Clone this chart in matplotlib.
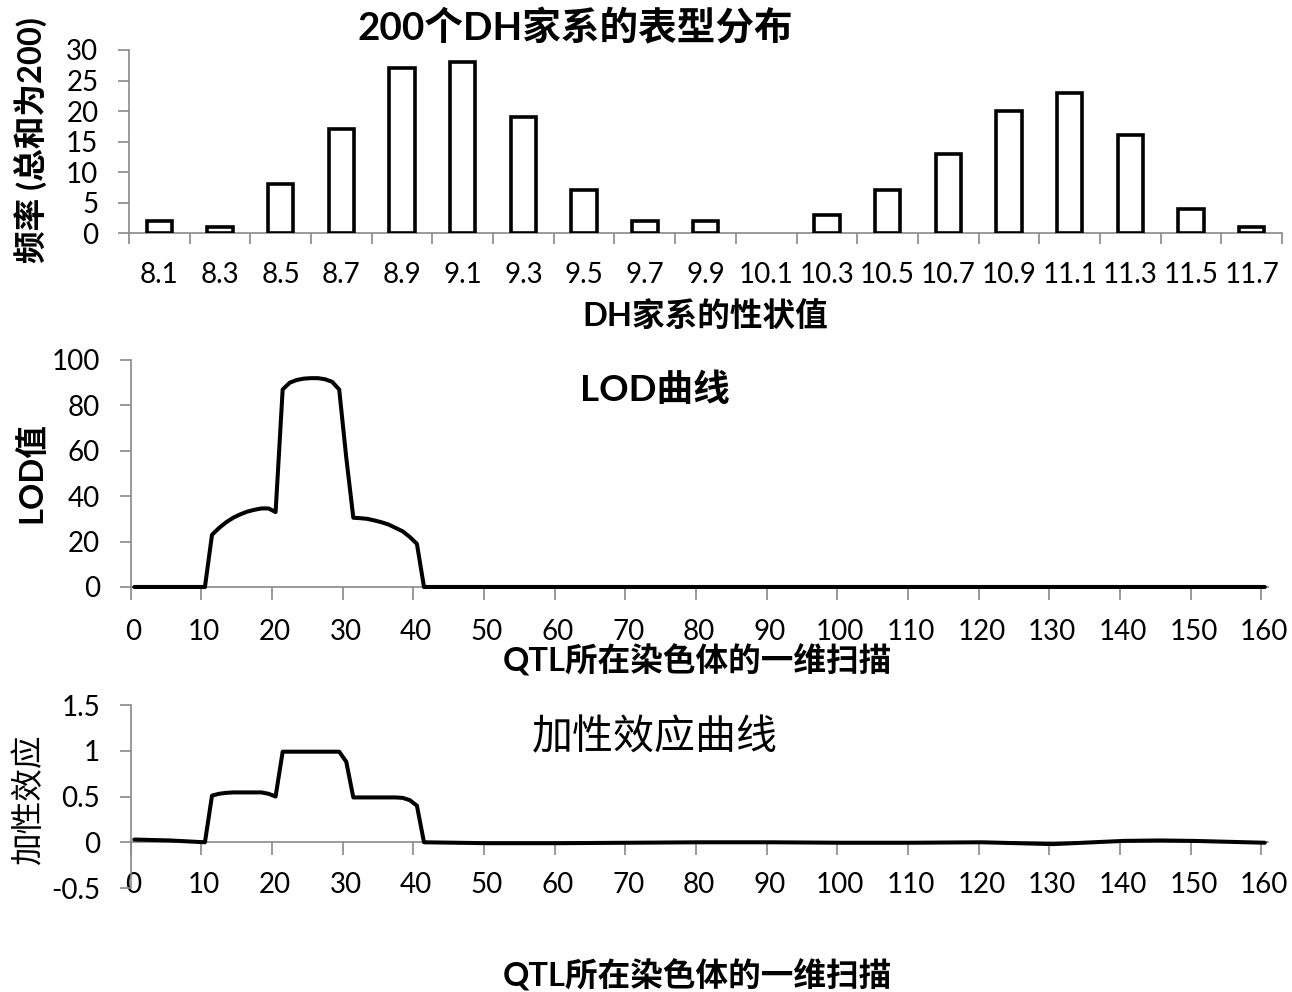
import matplotlib
matplotlib.use("Agg")
import matplotlib.pyplot as plt
from matplotlib.ticker import FixedLocator, NullFormatter

plt.rcParams['font.family'] = ['Lato', 'Noto Sans CJK SC', 'DejaVu Sans']
plt.rcParams['axes.unicode_minus'] = False

# ---- phenotype distribution of 200 DH lines ----
trait_labels = ['8.1', '8.3', '8.5', '8.7', '8.9', '9.1', '9.3', '9.5', '9.7', '9.9',
                '10.1', '10.3', '10.5', '10.7', '10.9', '11.1', '11.3', '11.5', '11.7']
freq = [2, 1, 8, 17, 27, 28, 19, 7, 2, 2,
        0, 3, 7, 13, 20, 23, 16, 4, 1]

# ---- LOD profile along the chromosome (marker index, LOD) ----
lod_pos = [0, 10, 11, 12, 13, 14, 15, 16, 17, 18, 19, 20,
           21, 22, 23, 24, 25, 26, 27, 28, 29, 30,
           31, 32, 33, 34, 35, 36, 37, 38, 39, 40, 41, 160]
lod_val = [0, 0, 23, 26, 28.5, 30.5, 32, 33.2, 34, 34.6, 34.6, 33,
           87, 90, 91.2, 91.8, 92, 92, 91.5, 90.4, 87, 57,
           30.5, 30.3, 30, 29.3, 28.5, 27.5, 26, 24.5, 22, 19, 0, 0]

# ---- additive effect along the chromosome (marker index, effect) ----
add_pos = [0, 5, 10, 11, 12, 13, 14, 15, 16, 17, 18, 19, 20,
           21, 22, 23, 24, 25, 26, 27, 28, 29, 30,
           31, 32, 33, 34, 35, 36, 37, 38, 39, 40, 41,
           50, 60, 70, 80, 90, 100, 110, 120, 130, 140, 145, 150, 160]
add_val = [0.03, 0.02, 0.0, 0.51, 0.53, 0.54, 0.545, 0.545, 0.545, 0.545, 0.545, 0.53, 0.50,
           0.99, 0.99, 0.99, 0.99, 0.99, 0.99, 0.99, 0.99, 0.99, 0.88,
           0.49, 0.49, 0.49, 0.49, 0.49, 0.49, 0.49, 0.485, 0.46, 0.40, 0.0,
           -0.01, -0.01, -0.005, 0.0, 0.0, -0.005, -0.005, 0.0, -0.02, 0.015, 0.02, 0.015, -0.005]

scan_ticks = list(range(0, 161, 10))
n_markers = 161

AXIS_GREY = '#898989'
TICK_FS = 20
LABEL_FS = 23.5

fig = plt.figure(figsize=(12.92, 9.92), dpi=100)


def style_axes(ax):
    for side in ('top', 'right'):
        ax.spines[side].set_visible(False)
    for side in ('left', 'bottom'):
        ax.spines[side].set_color(AXIS_GREY)
        ax.spines[side].set_linewidth(1.2)
    ax.tick_params(axis='both', which='both', colors=AXIS_GREY, labelcolor='black',
                   labelsize=TICK_FS, width=1.2)
    ax.tick_params(axis='y', length=8, pad=14)


# ---------- top: histogram ----------
ax1 = fig.add_axes([0.0998, 0.7651, 0.8925, 0.1845])
style_axes(ax1)
xs = list(range(len(freq)))
ax1.bar(xs, freq, width=0.42, facecolor='white', edgecolor='black',
        linewidth=[2.6 if v > 0 else 0 for v in freq], zorder=3)
ax1.set_xlim(-0.5, len(freq) - 0.5)
ax1.set_ylim(0, 30)
ax1.set_yticks(range(0, 31, 5))
ax1.set_xticks(xs)
ax1.set_xticklabels(trait_labels)
ax1.xaxis.set_minor_locator(FixedLocator([i - 0.5 for i in range(len(freq) + 1)]))
ax1.tick_params(axis='x', which='major', length=0, pad=21)
ax1.tick_params(axis='x', which='minor', length=8)

fig.text(0.445, 0.9718, '200个DH家系的表型分布', ha='center', va='center',
         fontsize=27.8, fontweight='bold')
fig.text(0.0232, 0.859, '频率 (总和为200)', ha='center', va='center',
         rotation=90, fontsize=LABEL_FS, fontweight='bold')
fig.text(0.5457, 0.6815, 'DH家系的性状值', ha='center', va='center',
         fontsize=LABEL_FS, fontweight='bold')

# ---------- middle: LOD curve ----------
ax2 = fig.add_axes([0.1012, 0.4083, 0.8805, 0.2288])
style_axes(ax2)
ax2.plot([p + 0.5 for p in lod_pos], lod_val, color='black', linewidth=2.9,
         solid_joinstyle='round', solid_capstyle='round', zorder=3, clip_on=False)
ax2.set_xlim(0, n_markers)
ax2.set_ylim(0, 100)
ax2.set_yticks(range(0, 101, 20))
ax2.set_xticks([t + 0.4 for t in scan_ticks])
ax2.set_xticklabels([str(t) for t in scan_ticks])
ax2.xaxis.set_minor_locator(FixedLocator(scan_ticks))
ax2.tick_params(axis='x', which='major', length=0, pad=23)
ax2.tick_params(axis='x', which='minor', length=9)

fig.text(0.507, 0.607, 'LOD曲线', ha='center', va='center',
         fontsize=26.4, fontweight='bold')
fig.text(0.024, 0.524, 'LOD值', ha='center', va='center',
         rotation=90, fontsize=LABEL_FS, fontweight='bold')
fig.text(0.540, 0.3347, 'QTL所在染色体的一维扫描', ha='center', va='center',
         fontsize=LABEL_FS, fontweight='bold')

# ---------- bottom: additive effect curve ----------
ax3 = fig.add_axes([0.1012, 0.1048, 0.8805, 0.1845])
style_axes(ax3)
ax3.plot([p + 0.5 for p in add_pos], add_val, color='black', linewidth=2.9,
         solid_joinstyle='round', solid_capstyle='round', zorder=3, clip_on=False)
ax3.set_xlim(0, n_markers)
ax3.set_ylim(-0.5, 1.5)
ax3.set_yticks([-0.5, 0, 0.5, 1, 1.5])
ax3.set_yticklabels(['-0.5', '0', '0.5', '1', '1.5'])
ax3.spines['bottom'].set_position(('data', 0))
ax3.set_xticks(scan_ticks)
ax3.xaxis.set_major_formatter(NullFormatter())
ax3.tick_params(axis='x', which='major', length=9)

# category labels sit low, below the plotting area
sec = ax3.secondary_xaxis(0.085)
sec.spines['bottom'].set_visible(False)
sec.set_xticks([t + 0.4 for t in scan_ticks])
sec.set_xticklabels([str(t) for t in scan_ticks])
sec.tick_params(axis='x', length=0, pad=0, labelsize=TICK_FS, labelcolor='black')

fig.text(0.507, 0.257, '加性效应曲线', ha='center', va='center', fontsize=29.5)
fig.text(0.022, 0.1935, '加性效应', ha='center', va='center',
         rotation=90, fontsize=LABEL_FS)
fig.text(0.540, 0.0171, 'QTL所在染色体的一维扫描', ha='center', va='center',
         fontsize=LABEL_FS, fontweight='bold')

fig.savefig('out.png', dpi=100)
